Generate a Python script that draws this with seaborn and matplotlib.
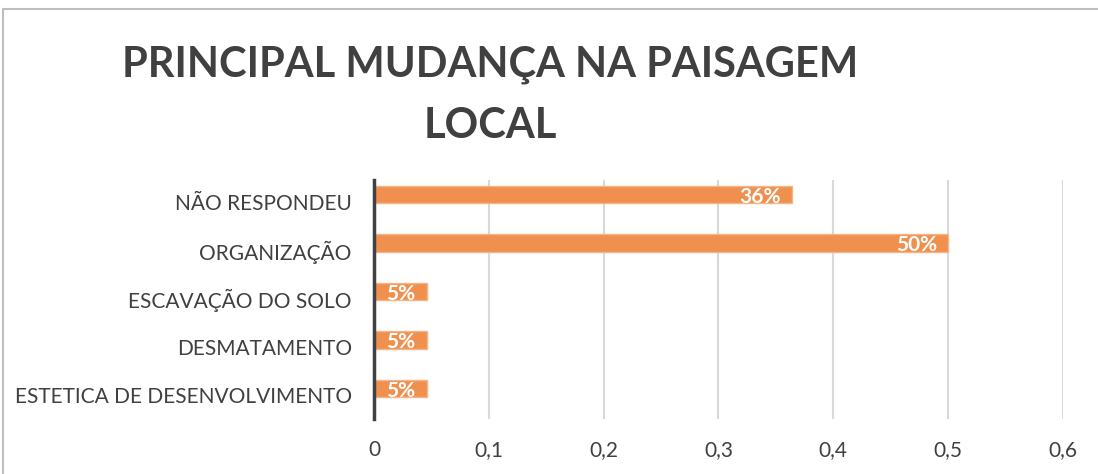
import matplotlib.pyplot as plt
import matplotlib.transforms as mtransforms
import seaborn as sns
from matplotlib.lines import Line2D

# data
categories = ["NÃO RESPONDEU", "ORGANIZAÇÃO", "ESCAVAÇÃO DO SOLO", "DESMATAMENTO", "ESTETICA DE DESENVOLVIMENTO"]
values = [0.364, 0.5, 0.046, 0.046, 0.046]
bar_labels = ["36%", "50%", "5%", "5%", "5%"]
x_ticks = [0, 0.1, 0.2, 0.3, 0.4, 0.5, 0.6]
x_tick_labels = ["0", "0,1", "0,2", "0,3", "0,4", "0,5", "0,6"]

sns.set_style("white")
plt.rcParams['font.family'] = ['Lato', 'DejaVu Sans']

fig = plt.figure(figsize=(10.98, 4.74), dpi=100)
ax = fig.add_axes([0.3406, 0.116, 0.6275, 0.504])

sns.barplot(x=values, y=categories, orient="h", color="#F0904F", saturation=1,
            width=0.36, edgecolor="#F5B48A", linewidth=1, ax=ax, zorder=3)

# labels inside end of bars
for i, (v, lab) in enumerate(zip(values, bar_labels)):
    ax.annotate(lab, (v, i), xytext=(-8, -1.5), textcoords="offset points",
                ha="right", va="center", color="white", fontsize=15, fontweight="bold", zorder=4)

ax.set_xlim(0, 0.6)
ax.set_ylim(4.63, -0.3)
ax.set_xticks(x_ticks)
ax.set_xticklabels(x_tick_labels)
ax.xaxis.grid(True, color="#d9d9d9", linewidth=1.5, zorder=0)
ax.yaxis.grid(False)
ax.tick_params(axis="both", length=0, labelsize=15, labelcolor="#404040")
ax.tick_params(axis="x", pad=15)
ax.tick_params(axis="y", pad=16)
# category labels sit a bit below the bar centres
shift = mtransforms.ScaledTranslation(0, -7 / 100, fig.dpi_scale_trans)
for t in ax.get_yticklabels():
    t.set_transform(t.get_transform() + shift)
for s in ["top", "right", "bottom"]:
    ax.spines[s].set_visible(False)
ax.spines["left"].set_color("#404040")
ax.spines["left"].set_linewidth(2.5)
ax.spines["left"].set_zorder(5)
ax.set_xlabel("")
ax.set_ylabel("")

# title
fig.text(0.446, 0.863, "PRINCIPAL MUDANÇA NA PAISAGEM", ha="center", va="center",
         fontsize=30, fontweight="bold", color="#404040")
fig.text(0.447, 0.735, "LOCAL", ha="center", va="center",
         fontsize=30, fontweight="bold", color="#404040")

# chart area border (top and left)
fig.add_artist(Line2D([0.003, 1], [0.981, 0.981], color="#bfbfbf", linewidth=1.5, transform=fig.transFigure))
fig.add_artist(Line2D([0.003, 0.003], [0, 0.981], color="#bfbfbf", linewidth=1.5, transform=fig.transFigure))

fig.savefig("out.png", dpi=100)
